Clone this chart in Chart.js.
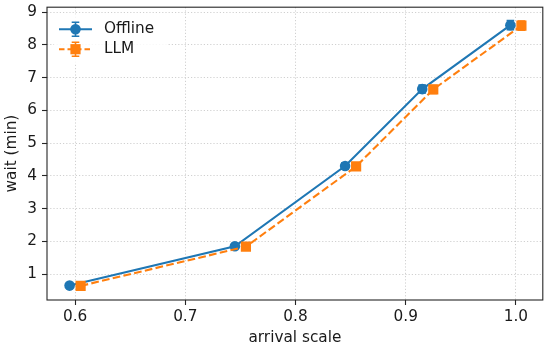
<!DOCTYPE html>
<html>
<head>
<meta charset="utf-8">
<script src="https://cdn.jsdelivr.net/npm/chart.js@4/dist/chart.umd.min.js"></script>
<style>
  html, body { margin: 0; padding: 0; background: #fff; }
  canvas { display: block; }
</style>
</head>
<body>
<canvas id="chart" width="550" height="349"></canvas>
<script>
// values
const scaleOffline = [0.595, 0.745, 0.845, 0.915, 0.995];
const scaleLLM = [0.605, 0.755, 0.855, 0.925, 1.005];
const waitOffline = [0.65, 1.85, 4.30, 6.65, 8.60];
const waitLLM = [0.64, 1.84, 4.29, 6.64, 8.59];
const errOffline = [0.04, 0.05, 0.10, 0.12, 0.14];
const errLLM = [0.04, 0.05, 0.10, 0.12, 0.14];
const xTicks = [0.6, 0.7, 0.8, 0.9, 1.0];
const yTicks = [1, 2, 3, 4, 5, 6, 7, 8, 9];

const BLUE = "#1f77b4";
const ORANGE = "#ff7f0e";
const FONT = "'DejaVu Sans', sans-serif";
const FS = 15.3;

function pts(xs, ys) {
  return xs.map((x, i) => ({ x, y: ys[i] }));
}

const series = [
  { label: "Offline", xs: scaleOffline, ys: waitOffline, err: errOffline, color: BLUE, dash: [], style: "circle", r: 5.3 },
  { label: "LLM", xs: scaleLLM, ys: waitLLM, err: errLLM, color: ORANGE, dash: [7.7, 3.3], style: "rect", r: 7.2 },
];

// vertical error bars with caps, drawn per dataset
const errorBars = {
  id: "errorBars",
  afterDatasetDraw(chart, args) {
    const s = series[args.index];
    const { x: xs, y: ys } = chart.scales;
    const ctx = chart.ctx;
    ctx.save();
    ctx.strokeStyle = s.color;
    ctx.lineWidth = 1.6;
    s.xs.forEach((v, i) => {
      const px = xs.getPixelForValue(v);
      const top = ys.getPixelForValue(s.ys[i] + s.err[i]);
      const bot = ys.getPixelForValue(s.ys[i] - s.err[i]);
      ctx.beginPath();
      ctx.moveTo(px, top); ctx.lineTo(px, bot);
      ctx.moveTo(px - 3.8, top); ctx.lineTo(px + 3.8, top);
      ctx.moveTo(px - 3.8, bot); ctx.lineTo(px + 3.8, bot);
      ctx.stroke();
    });
    ctx.restore();
  },
};

// full spine box + matplotlib-like legend
const frameAndLegend = {
  id: "frameAndLegend",
  afterDraw(chart) {
    const { ctx, chartArea: a } = chart;
    ctx.save();
    ctx.strokeStyle = "#262626";
    ctx.lineWidth = 1.1;
    ctx.strokeRect(a.left, a.top, a.right - a.left, a.bottom - a.top);

    const bx = a.left + 7, by = a.top + 7;
    ctx.fillStyle = "rgba(255,255,255,0.85)";
    ctx.beginPath();
    ctx.roundRect(bx, by, 114, 50, 3);
    ctx.fill();

    series.forEach((s, i) => {
      const cy = by + 15 + i * 20;
      const x0 = a.left + 12, x1 = a.left + 45, cx = (x0 + x1) / 2;
      ctx.strokeStyle = s.color;
      ctx.fillStyle = s.color;
      ctx.lineWidth = 2.1;
      ctx.setLineDash(s.dash.length ? [5.5, 3] : []);
      ctx.beginPath();
      ctx.moveTo(x0, cy); ctx.lineTo(x1, cy);
      ctx.stroke();
      ctx.setLineDash([]);
      ctx.lineWidth = 1.6;
      ctx.beginPath();
      ctx.moveTo(cx, cy - 7); ctx.lineTo(cx, cy + 7);
      ctx.moveTo(cx - 3.8, cy - 7); ctx.lineTo(cx + 3.8, cy - 7);
      ctx.moveTo(cx - 3.8, cy + 7); ctx.lineTo(cx + 3.8, cy + 7);
      ctx.stroke();
      ctx.beginPath();
      if (s.style === "circle") {
        ctx.arc(cx, cy, s.r, 0, Math.PI * 2);
      } else {
        const h = s.r * Math.SQRT1_2;
        ctx.rect(cx - h, cy - h, 2 * h, 2 * h);
      }
      ctx.fill();
      ctx.fillStyle = "#1a1a1a";
      ctx.font = FS + "px " + FONT;
      ctx.textBaseline = "middle";
      ctx.textAlign = "left";
      ctx.fillText(s.label, a.left + 57, cy);
    });
    ctx.restore();
  },
};

const axisCommon = {
  type: "linear",
  grid: {
    color: "#c4c4c4",
    lineWidth: 0.8,
    tickColor: "#262626",
    tickLength: 5,
    tickWidth: 1.1,
    tickBorderDash: [],
  },
  border: { display: false, dash: [1.2, 2] },
};

new Chart(document.getElementById("chart"), {
  type: "line",
  data: {
    datasets: series.map((s, i) => ({
      label: s.label,
      data: pts(s.xs, s.ys),
      borderColor: s.color,
      backgroundColor: s.color,
      borderWidth: 2.1,
      borderDash: s.dash,
      pointStyle: s.style,
      pointRadius: s.r,
      pointBorderWidth: 0,
      pointBackgroundColor: s.color,
      tension: 0,
      order: series.length - i,
    })),
  },
  plugins: [errorBars, frameAndLegend],
  options: {
    responsive: false,
    devicePixelRatio: 1,
    animation: false,
    layout: { padding: { top: 5, right: 5, left: 0, bottom: 0 } },
    plugins: { legend: { display: false }, tooltip: { enabled: false } },
    scales: {
      x: {
        ...axisCommon,
        min: 0.5745,
        max: 1.0244,
        afterBuildTicks: (s) => { s.ticks = xTicks.map((v) => ({ value: v })); },
        afterFit: (s) => { s.height = 49; s.paddingLeft = 0; s.paddingRight = 0; },
        ticks: {
          padding: 3,
          color: "#1a1a1a",
          font: { family: FONT, size: FS },
          maxRotation: 0,
          callback: (v) => Number(v).toFixed(1),
        },
        title: {
          display: true,
          text: "arrival scale",
          color: "#1a1a1a",
          font: { family: FONT, size: FS },
          padding: { top: 0, bottom: 2 },
        },
      },
      y: {
        ...axisCommon,
        min: 0.21,
        max: 9.15,
        afterBuildTicks: (s) => { s.ticks = yTicks.map((v) => ({ value: v })); },
        afterFit: (s) => { s.width = 47; s.paddingTop = 0; s.paddingBottom = 0; },
        ticks: {
          padding: 5,
          color: "#1a1a1a",
          font: { family: FONT, size: FS },
          callback: (v) => String(v),
        },
        title: {
          display: true,
          text: "wait (min)",
          color: "#1a1a1a",
          font: { family: FONT, size: FS },
          padding: { top: 3, bottom: 0 },
        },
      },
    },
  },
});
</script>
</body>
</html>
